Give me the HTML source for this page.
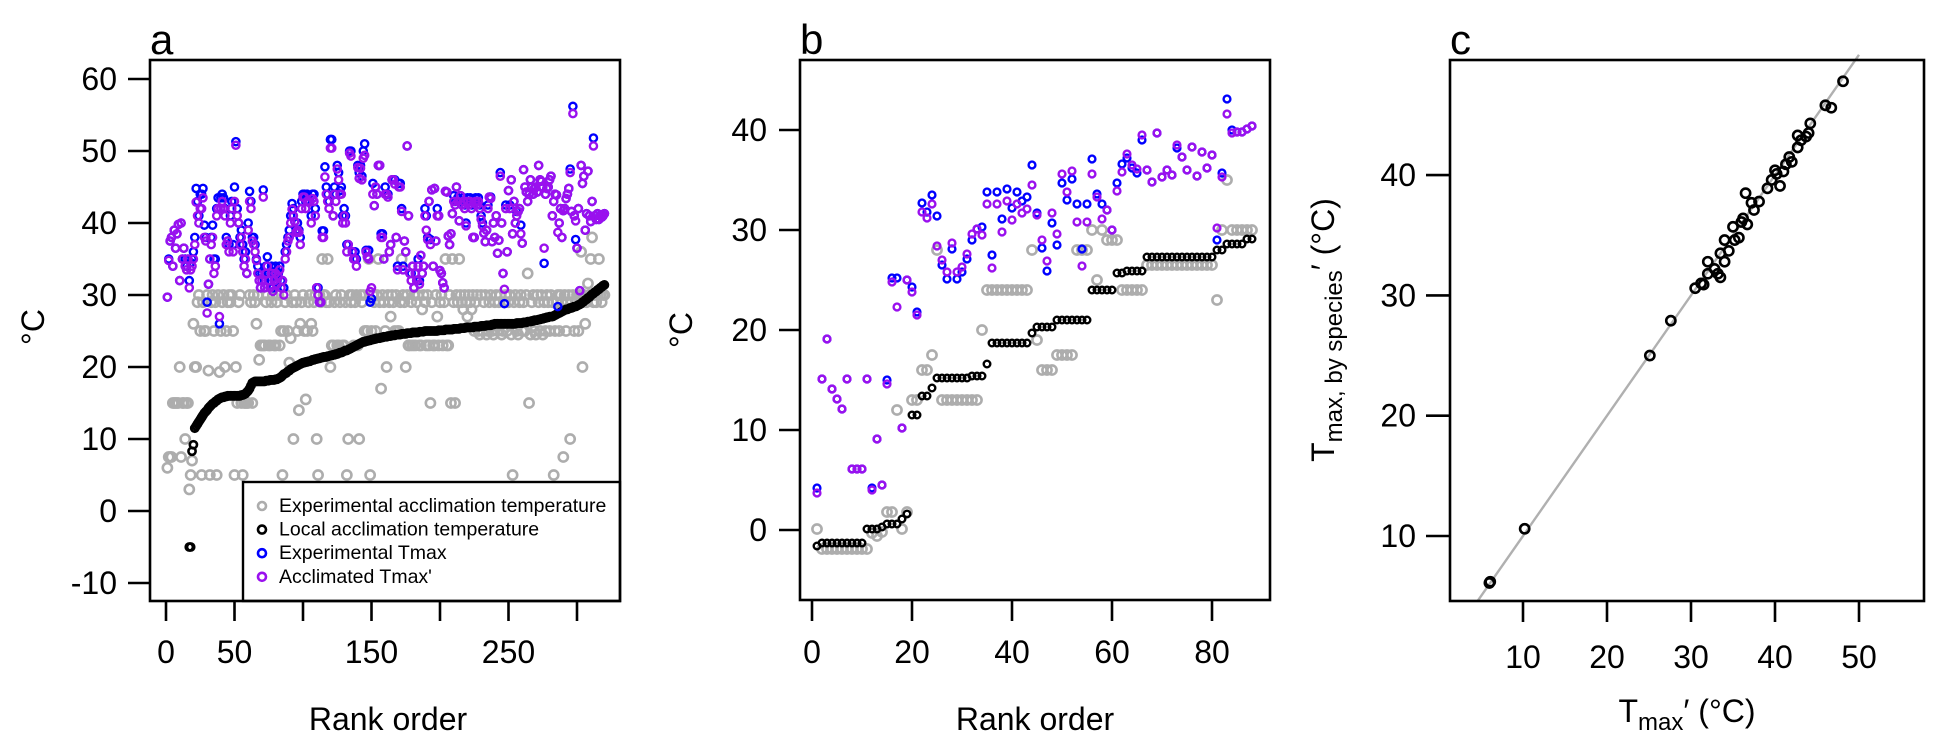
<!DOCTYPE html>
<html><head><meta charset="utf-8"><style>
html,body{margin:0;padding:0;background:#fff;}
svg{display:block;font-family:"Liberation Sans",Arial,sans-serif;}
</style></head><body>
<svg id="fig" width="1950" height="750" viewBox="0 0 1950 750" xmlns="http://www.w3.org/2000/svg">
<rect x="0" y="0" width="1950" height="750" fill="#fff"/>
<g id="pa"></g>
<g id="pb"></g>
<g id="pc"></g>
</svg>
<script>
// ---------- Panel a data ----------
const aTicksY=[60,50,40,30,20,10,0,-10];
const aTicksX=[0,50,100,150,200,250,300];
const aTickLabelsX=["0","50","","150","","250",""];
const aLocal=[null,null,null,null,null,null,null,null,null,null,null,null,null,null,null,null,-5,-5,8.3,9.2,
11.5,11.8,12.1,12.4,12.7,13,13.3,13.6,13.8,14,14.3,14.5,14.7,14.9,15,15.2,15.3,15.5,15.6,15.7,
15.8,15.8,15.9,15.9,16,16,16,16,16,16,16,16,16,16,16.1,16.1,16.2,16.3,16.5,16.7,
17,17.4,17.8,17.9,18,18,18,18,18,18,18,18,18.1,18.1,18.1,18.2,18.2,18.2,18.2,18.3,
18.3,18.4,18.5,18.6,18.8,19,19.1,19.2,19.4,19.5,19.7,19.8,19.9,20,20.1,20.2,20.3,20.4,20.5,20.6,
20.6,20.7,20.7,20.8,20.8,20.9,21,21,21.1,21.1,21.2,21.2,21.3,21.3,21.4,21.4,21.4,21.5,21.5,21.6,
21.6,21.7,21.7,21.8,21.8,21.9,22,22,22.1,22.2,22.3,22.3,22.4,22.5,22.6,22.7,22.8,22.9,23,23.1,
23.2,23.3,23.4,23.5,23.5,23.6,23.6,23.7,23.7,23.8,23.8,23.9,23.9,24,24,24,24.1,24.1,24.2,24.2,
24.2,24.3,24.3,24.3,24.4,24.4,24.4,24.5,24.5,24.5,24.5,24.6,24.6,24.6,24.6,24.7,24.7,24.7,24.7,24.8,
24.8,24.8,24.8,24.8,24.9,24.9,24.9,24.9,25,25,25,25,25,25,25,25,25,25,25.1,25.1,
25.1,25.1,25.1,25.2,25.2,25.2,25.2,25.2,25.2,25.3,25.3,25.3,25.3,25.3,25.4,25.4,25.4,25.4,25.5,25.5,
25.5,25.5,25.5,25.5,25.6,25.6,25.6,25.6,25.6,25.7,25.7,25.7,25.7,25.8,25.8,25.8,25.8,25.9,25.9,26,
26,26,26,26,26,26,26,26,26,26,26,26,26,26,26,26.1,26.1,26.1,26.1,26.1,
26.2,26.2,26.2,26.3,26.3,26.3,26.4,26.4,26.5,26.5,26.5,26.6,26.6,26.7,26.7,26.8,26.8,26.9,26.9,27,
27,27,27.1,27.2,27.3,27.4,27.5,27.6,27.7,27.8,27.9,28,28,28.1,28.2,28.2,28.3,28.4,28.4,28.5,
28.6,28.7,28.8,29,29.1,29.3,29.4,29.6,29.7,29.9,30.1,30.2,30.4,30.5,30.7,30.8,31,31.1,31.3,31.4];
const aExpAccl=[6,7.5,7.5,7.5,15,15,15,15,15,20,7.5,15,15,10,15,15,3,5,7,26,
20,20,29,30,25,5,29,25,25,30,19.5,5,29,30,25,29,5,30,19.3,25,
29,30,20,25,29,30,29,30,25,5,20,15,29,30,15,5,15,15,15,15,
30,29,15,30,29,26,30,21,23,23,23,23,29,30,23,23,29,30,23,23,
29,30,23,25,5,25,29,30,25,20.6,24,29,10,30,29,25,14,26,29,30,
25,15.5,25,29,30,26,25,29,30,10,5,30,29,35,30,30,29,35,29,20,
23,23,29,30,23,23,29,30,23,23,29,5,10,30,29,30,23,29,30,23,
10,30,29,30,25,25,25,35,5,25,30,29,25,30,35,29,17,30,29,25,
20,30,29,27,30,29,25,30,25,25,29,35,30,29,20,30,23,23,29,23,
30,23,29,30,23,23,28,30,29,23,30,23,15,29,23,23,30,27,23,29,
30,23,29,35,23,23,30,15,35,29,15,30,29,35,30,29,28,30,29,27,
30,29,28,30,25,29,30,25,24.5,30,25,29,30,24.5,25,29,30,25,24.5,29,
30,25,29,30,24.5,25,29,30,25,29,30,24.5,5,29,30,25,24.5,29,30,25,
29,25,30,33,15,24.5,29,30,25,24.5,30,29,25,30,24.5,29,25,30,29,25,
30,29,5,25,29,30,25,30,29,7.5,30,25,29,30,10,29,30,25,29,30,
25,30,36,20,30,26,29,31.6,30,35,38,29,30,29,30,35,30,29,30,30];
const aExpTmax=[29.7,35,37.5,38,34,39,36.5,38.5,39.8,32,40,35,36.5,35,34,35,32,34.5,35,36,
38,44.8,43,41,44,44,44.8,39.7,38,29,31.5,35,38,39.7,35,35,42,43.5,26,43.5,
44,43.5,42,38,37.5,37,41,43,37,45,51.3,42,40,38,39,37,35,36,33,40,
44.4,43,38,38,37,35,34,33,31,33,44.6,32,34,35.3,33,32,34,31,33,34,
32,33,34,32,32,31,36,37,38,39,41,42.7,42,40.2,39,40,39,38,43,44,
44,43,44,43,43,41,44,44,42,31,31,29,29,38.9,38.9,47.8,45,44,43,51.6,
51.6,41,45,44,48,47,44.5,45,41,42,41,37,37,50,50,36,35,36,35,48,
47,48,46.5,50,51,36.2,35.3,36.2,29,29.5,45.5,42.4,45,44,48,48,38.5,38.5,35,45,
44,44,36,37,46,46,46,38,34,45.5,45.5,42,34,37.5,36,50.7,41,33,33,34,
31,33,32,35,32,35.5,33,34,42,41,38,43,37.7,44.6,34,44.8,37.5,42,41,33.4,
33,31.7,31,44.4,44.3,38.2,37,38.5,41.3,43.8,43,45,43.5,40.3,43.8,43,43.5,42.5,40,43.5,
43,43.5,42.5,38,38,43.5,43,43.5,42.5,41,40,38.6,37.4,39,42.5,43.6,43.6,37.4,40,38,
41,35.8,37.6,47,40,33,28.8,42.5,36,44.5,42.5,46,38.5,43,40,41.6,41.6,42,39.7,37.2,
47.4,45,44.3,43,44,46,45,44,44.8,45,44.3,48,46,45.8,45,34.4,44,44.8,45,46,
46.5,41,43,44,43.9,28.4,40,42,38,41.7,42,43.4,44,44.8,47.5,41.6,56.2,41,37.7,36.5,
42,30.6,48,45.5,46.5,39,41.3,47.2,41,40.2,43,51.8,41,40.5,41.3,40.5,41,40.8,41,41.3];
const aAcclTmax=[29.7,34.8,37.5,38,34,39,36.5,38.5,39.8,32,40,35,36.5,34,33.5,35,31,33.5,34,35,
37,42.9,41,40,42,42,43.5,38,37.5,27.5,31.5,35,37,38,33,34,41,42,27,42,
43,42,41,37,37.5,36,40,42,36,43,50.8,41,40,37,38,36,34,35,33,39,
43,42,37.5,37,36,34.8,33,32,31,32,43.6,31,33,34,32,31,33,30.5,32,33,
31.5,32.5,33.5,31,32,30,35,36,37.5,38,40,41.9,41,40.2,38.7,39,38.7,37,42,43.6,
43.6,42,43,42.9,42.9,40,43.4,43,41,31,30,29,29,38,38,46.4,44,43,42,50.4,
50.4,41,44,43,47.5,46,44,44,40,41,40,36,37,49.7,49.3,36,35,35,34,47.7,
46.2,47.6,46,49,49.4,36,35.3,35,30.5,31,44,42.4,45,44,48,48,38,38,35,44,
44,43.6,36,37,46,46,45.4,38,33.5,45,45,41.6,33.5,37.5,36,50.7,41,33,32,34,
31,33,32,34,31.5,35.5,33,34,41,39,37.7,43,37,44.6,34,44.8,37.5,41,41,33.4,
33,31.7,31,44.4,44.3,38.2,37,38.5,41.3,43,42.5,45,43,40.3,43.8,42.5,43,42,39.6,43,
42.5,43,42,38,38,43,42.5,43,42,40.5,39.6,38.6,37.4,39,42,43.6,43.4,37.4,40,38,
41,35.8,37.6,46.5,40,33,30.8,42,36,44.5,42,46,38.5,43,40,41,41.6,42,38.5,37.2,
47.4,45,44.3,43,44,46,45,44,44.8,45,44.3,48,46,45.8,45,36.5,44,44.8,45,46,
46.5,41,43,44,43.9,38.7,40,42,38,41.7,42,43.4,44,44.8,47,41.6,55.2,41,40.3,36.5,
42,30.6,48,45.5,46.5,39,41.3,47.2,41,40.2,43,50.7,41,40.5,41.3,40.5,41,40.8,41,41.3];
const legendLabels=["Experimental acclimation temperature","Local acclimation temperature","Experimental Tmax","Acclimated Tmax'"];

// ---------- Panel b data ----------
const bTicksY=[0,10,20,30,40];
const bTicksX=[0,20,40,60,80];
const bLocal=[-1.6,-1.3,-1.3,-1.3,-1.3,-1.3,-1.3,-1.3,-1.3,-1.3,0.1,0.1,0.1,0.3,0.6,0.6,0.6,1.1,1.6,11.5,
11.5,13.4,13.4,14.2,15.2,15.2,15.2,15.2,15.2,15.2,15.2,15.4,15.4,15.4,16.6,18.7,18.7,18.7,18.7,18.7,
18.7,18.7,18.7,19.7,20.3,20.3,20.3,20.3,21,21,21,21,21,21,21,24,24,24,24,24,
25.7,25.7,25.9,25.9,25.9,25.9,27.3,27.3,27.3,27.3,27.3,27.3,27.3,27.3,27.3,27.3,27.3,27.3,27.3,27.3,
28,28,28.6,28.6,28.6,28.6,29.1,29.1];
const bExpAccl=[0.1,-1.9,-1.9,-1.9,-1.9,-1.9,-1.9,-1.9,-1.9,-1.9,-1.9,-0.3,-0.6,-0.2,1.8,1.8,12,0.1,1.8,13,
13,16,16,17.5,28,13,13,13,13,13,13,13,13,20,24,24,24,24,24,24,
24,24,24,28,19,16,16,16,17.5,17.5,17.5,17.5,28,28,28,30,25,30,29,29,
29,24,24,24,24,24,26.5,26.5,26.5,26.5,26.5,26.5,26.5,26.5,26.5,26.5,26.5,26.5,26.5,26.5,
23,30,35,30,30,30,30,30];
const bExpTmax=[4.2,15.1,19.1,14.1,13.1,12.1,15.1,6.1,6.1,6.1,15.1,4.2,9.1,4.5,15,25.2,25.2,10.2,25,24.3,
21.8,32.7,31.8,33.5,31.4,26.5,25.1,28.1,25.1,25.8,27.1,29,30.1,30.3,33.8,27.5,33.8,31.1,34.1,32.2,
33.8,32.9,33.3,36.5,31.7,28.2,25.9,30.7,28.5,34.7,33,35.1,32.6,28.1,32.6,37.1,33.6,32.6,32,30,
34.7,36.6,37.2,36.2,35.7,39,36,34.8,39.7,35.3,36,35.5,38.2,37.3,36,38.3,35.4,37.8,36.2,37.5,
29,35.7,43.1,40,39.8,39.8,40.1,40.4];
const bAcclTmax=[3.7,15.1,19.1,14.1,13.1,12.1,15.1,6.1,6.1,6.1,15.1,4,9.1,4.5,14.6,24.8,22.3,10.2,25,23.8,
21.5,31.8,31.2,32.6,28.4,27,25.8,28.7,25.8,26.3,27.6,29.6,30.1,29.5,32.6,26.2,32.6,29.8,32.9,31,
32.6,31.7,32.1,34.5,31.5,29,26.9,31.7,29.6,35.6,33.8,35.9,30.8,26.4,30.8,35.6,33.3,31.1,32,30,
33.9,35.8,37.6,36.5,36.1,39.5,36,34.8,39.7,35.3,36,35.5,38.5,37.3,36,38.3,35.4,37.8,36.2,37.5,
30.2,35.3,41.6,39.7,39.8,39.8,40.1,40.4];

// ---------- Panel c data ----------
const cTicksX=[10,20,30,40,50];
const cTicksY=[10,20,30,40];
const cTmaxPrime=[6,6.1,10.2,25.1,27.6,30.5,31.2,31.5,32,32,32.8,33.2,33.5,33.5,34,34,34.5,35,35.2,35.7,36,36.2,36.5,36.7,37.2,37.5,38.1,39.1,39.6,40,40.2,40.6,41,41.3,41.7,42,42.7,42.7,43.1,43.7,44,44.2,46,46.7,48.1];
const cTmaxSpecies=[6.1,6.2,10.6,25,27.9,30.6,31,30.9,31.8,32.8,32.2,31.8,31.5,33.5,32.8,34.6,33.7,35.7,34.6,34.8,36.1,36.4,38.5,35.9,37.7,37.1,37.8,38.9,39.6,40.4,40.1,39.1,40.3,40.9,41.5,41.1,42.3,43.3,42.9,43.2,43.5,44.3,45.8,45.6,47.8];

const NS="http://www.w3.org/2000/svg";
function mk(parent,tag,attrs,text){const e=document.createElementNS(NS,tag);for(const k in attrs)e.setAttribute(k,attrs[k]);if(text!==undefined)e.textContent=text;parent.appendChild(e);return e;}

function frame(g,L,T,R,B){
  const r=mk(g,'rect',{x:L,y:T,width:R-L,height:B-T,fill:'none',stroke:'#000','stroke-width':2.6});
  
  
}
function yAxis(g,ticks,labels,sy,L,tl,lx){
  ticks.forEach((t,i)=>{
    const ln=mk(g,'line',{x1:L-tl,x2:L,y1:sy(t),y2:sy(t),stroke:'#000','stroke-width':2.6});
    
    
    const tx=mk(g,'text',{x:lx,y:sy(t)+11,'text-anchor':'end','font-size':32},labels?labels[i]:String(t));
    
    
  });
}
function xAxis(g,ticks,labels,sx,B,tl,ly){
  ticks.forEach((t,i)=>{
    const ln=mk(g,'line',{x1:sx(t),x2:sx(t),y1:B,y2:B+tl,stroke:'#000','stroke-width':2.6});
    
    
    const lab=labels?labels[i]:String(t);
    if(lab){const tx=mk(g,'text',{x:sx(t),y:ly,'text-anchor':'middle','font-size':32},lab);
    
    }
  });
}
function pts(g,vals,sx,sy,r,col,sw,name,xs){
  vals.forEach((v,i)=>{
    if(v===null)return;
    const xv=xs?xs[i]:i+1;
    const c=mk(g,'circle',{cx:sx(xv),cy:sy(v),r:r,fill:'none',stroke:col,'stroke-width':sw});
    
    
  });
}
const GRAY='#adadad',BLUE='#0000ff',PURP='#9a10ee';

// ===== Panel a =====
(function(){
  const g=document.getElementById('pa');
  const L=150,T=60,R=620,B=601;
  const sx=v=>166+v*1.37, sy=v=>511-v*7.2;
  pts(g,aExpAccl,sx,sy,4.6,GRAY,2.6,'exp-acclimation-point');
  pts(g,aLocal,sx,sy,3.6,'#000',2.6,'local-acclimation-point');
  pts(g,aExpTmax,sx,sy,3.6,BLUE,2.4,'exp-tmax-point');
  pts(g,aAcclTmax,sx,sy,3.6,PURP,2.4,'accl-tmax-point');
  const lg=mk(g,'g',{});
  
  
  mk(lg,'rect',{x:243,y:482,width:377,height:119,fill:'#fff',stroke:'#000','stroke-width':2.4});
  const lcols=[GRAY,'#000',BLUE,PURP];
  legendLabels.forEach((lab,i)=>{
    const y=512+i*23.6;
    const e=mk(lg,'g',{});
    
    
    mk(e,'circle',{cx:262,cy:y-6,r:4,fill:'none',stroke:lcols[i],'stroke-width':2.6});
    mk(e,'text',{x:279,y:y,'font-size':19.5},lab);
  });
  frame(g,L,T,R,B);
  yAxis(g,aTicksY,null,sy,L,22,117);
  xAxis(g,aTicksX,aTickLabelsX,sx,B,20,663);
  const yl=mk(g,'text',{x:0,y:0,'font-size':32,'text-anchor':'middle',transform:'translate(44,327) rotate(-90)'},'°C');
  
  
  const xl=mk(g,'text',{x:388,y:730,'font-size':32,'text-anchor':'middle'},'Rank order');
  
  
  const pl=mk(g,'text',{x:150,y:54,'font-size':42},'a');
  
  
})();

// ===== Panel b =====
(function(){
  const g=document.getElementById('pb');
  const L=800,T=60,R=1270,B=600;
  const sx=v=>812+v*5, sy=v=>530-v*10;
  pts(g,bExpAccl,sx,sy,4.6,GRAY,2.6,'exp-acclimation-point');
  pts(g,bLocal,sx,sy,3.3,'#000',2.4,'local-acclimation-point');
  pts(g,bExpTmax,sx,sy,3.4,BLUE,2.4,'exp-tmax-point');
  pts(g,bAcclTmax,sx,sy,3.4,PURP,2.4,'accl-tmax-point');
  frame(g,L,T,R,B);
  yAxis(g,bTicksY,null,sy,L,21,767);
  xAxis(g,bTicksX,null,sx,B,21,663);
  const yl=mk(g,'text',{x:0,y:0,'font-size':32,'text-anchor':'middle',transform:'translate(692,330) rotate(-90)'},'°C');
  
  
  const xl=mk(g,'text',{x:1035,y:730,'font-size':32,'text-anchor':'middle'},'Rank order');
  
  
  const pl=mk(g,'text',{x:800,y:54,'font-size':42},'b');
  
  
})();

// ===== Panel c =====
(function(){
  const g=document.getElementById('pc');
  const L=1450,T=60,R=1924,B=601;
  const sx=v=>1523+(v-10)*8.4, sy=v=>536-(v-10)*12.03;
  const x0=4.6,x1=50;
  const ln=mk(g,'line',{x1:sx(x0),y1:sy(x0),x2:sx(x1),y2:sy(x1),stroke:'#b0b0b0','stroke-width':2.4});
  
  
  pts(g,cTmaxSpecies,sx,sy,4.6,'#000',2.6,'species-point',cTmaxPrime);
  frame(g,L,T,R,B);
  yAxis(g,cTicksY,null,sy,L,24,1416);
  xAxis(g,cTicksX,null,sx,B,21,668);
  const yl=mk(g,'text',{x:0,y:0,'font-size':32,'text-anchor':'middle',transform:'translate(1334,330) rotate(-90)'});
  
  
  mk(yl,'tspan',{},'T');
  mk(yl,'tspan',{'font-size':24,dy:8},'max, by species');
  mk(yl,'tspan',{dy:-8},'′ (°C)');
  const xl=mk(g,'text',{x:1687,y:722,'font-size':32,'text-anchor':'middle'});
  
  
  mk(xl,'tspan',{},'T');
  mk(xl,'tspan',{'font-size':24,dy:8},'max');
  mk(xl,'tspan',{dy:-8},'′ (°C)');
  const pl=mk(g,'text',{x:1450,y:54,'font-size':42},'c');
  
  
})();
</script>
</body></html>
